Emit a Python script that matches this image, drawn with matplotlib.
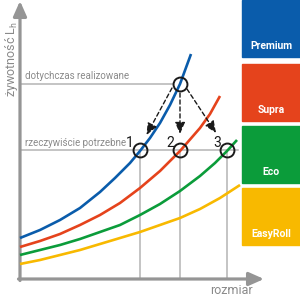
import matplotlib
matplotlib.use("Agg")
import matplotlib.pyplot as plt
from matplotlib.patches import Rectangle

# ---- data (x = size, y = lifetime, in chart units) ----
x_blue = [20, 40, 60, 80, 100, 115, 130, 140, 150, 160, 170, 180, 191]
y_blue = [62, 70, 80, 92, 108, 122, 137, 149, 162, 177, 195, 216, 246]
x_red = [20, 40, 60, 80, 100, 120, 140, 160, 180, 200, 210, 220]
y_red = [53, 59, 66, 75, 85, 97, 112, 129, 149, 172, 186, 204]
x_green = [20, 40, 60, 80, 100, 120, 140, 160, 180, 200, 215, 227, 237]
y_green = [45, 50, 55, 61, 68, 75, 85, 96, 109, 124, 137, 149, 160]
x_yellow = [20, 40, 60, 80, 100, 120, 140, 160, 180, 200, 220, 240]
y_yellow = [36, 40, 45, 50, 56, 62, 68, 75, 82, 91, 102, 115]

series_names = ["Premium", "Supra", "Eco", "EasyRoll"]
series_colors = ["#0a5cab", "#e5431c", "#0b9c3a", "#f8b900"]

level_high = 216          # "dotychczas realizowane"
level_needed = 150        # "rzeczywiście potrzebne"
x_high = 180
x_points = [140, 180, 227]
point_labels = ["1", "2", "3"]

label_high = "dotychczas realizowane"
label_needed = "rzeczywiście potrzebne"
ylabel = "żywotność L$_\\mathregular{h}$"
xlabel = "rozmiar"

# ---- figure ----
fig = plt.figure(figsize=(3, 3), dpi=100)
ax = fig.add_axes([0, 0, 1, 1])
ax.set_xlim(0, 300)
ax.set_ylim(0, 300)
ax.axis("off")

gray_axis = "#959595"
gray_line = "#b4b4b4"
gray_text = "#8a8a8a"
font = ["Liberation Sans Narrow", "Roboto", "DejaVu Sans"]

# reference lines
ax.plot([20, x_high - 7], [level_high, level_high], color=gray_line, lw=1.1, zorder=1)
ax.plot([20, 238], [level_needed, level_needed], color=gray_line, lw=1.1, zorder=1)
for xp in x_points:
    ax.plot([xp, xp], [21, level_needed], color=gray_line, lw=1.1, zorder=1)

# curves
for xs, ys, c in zip([x_blue, x_red, x_green, x_yellow],
                     [y_blue, y_red, y_green, y_yellow], series_colors):
    ax.plot(xs, ys, color=c, lw=1.9, solid_capstyle="butt", zorder=3)

# axes with arrows
ax.annotate("", xy=(20, 299), xytext=(20, 19.5),
            arrowprops=dict(arrowstyle="-|>,head_length=0.9,head_width=0.4",
                            color=gray_axis, lw=2.3, shrinkA=0, shrinkB=0), zorder=2)
ax.annotate("", xy=(264, 21), xytext=(18.5, 21),
            arrowprops=dict(arrowstyle="-|>,head_length=0.9,head_width=0.4",
                            color=gray_axis, lw=2.3, shrinkA=0, shrinkB=0), zorder=2)

# circles
ax.plot([x_high], [level_high], "o", ms=10, mfc="none", mec="#1a1a1a", mew=1.4, zorder=5)
ax.plot(x_points, [level_needed] * 3, "o", ms=10, mfc="none", mec="#1a1a1a", mew=1.4, zorder=5)

# dashed arrows from the upper circle to the three points
starts = [(172, 212), (180, 207), (187, 211)]
ends = [(146.5, 165), (180, 166), (216, 167)]
for (sx, sy), (ex, ey) in zip(starts, ends):
    ax.annotate("", xy=(ex, ey), xytext=(sx, sy),
                arrowprops=dict(arrowstyle="-|>,head_length=0.7,head_width=0.3",
                                color="#1a1a1a", lw=1.0, ls=(0, (3, 2)),
                                shrinkA=0, shrinkB=0), zorder=4)

# point numbers
for xp, t in zip(x_points, point_labels):
    ax.text(xp - 10, level_needed + 7, t, fontsize=10, color="#1a1a1a",
            ha="center", va="center", family=font)

# texts
ax.text(25, level_high + 8, label_high, fontsize=7, color=gray_text,
        ha="left", va="center", family=font)
ax.text(25, level_needed + 7, label_needed, fontsize=7, color=gray_text,
        ha="left", va="center", family=font)
ax.text(12, 241, ylabel, fontsize=9, color=gray_text, rotation=90,
        ha="center", va="center", family=font)
ax.text(231, 9, xlabel, fontsize=9, color=gray_text, ha="center", va="center",
        family=font)

# legend boxes
box_tops = [300, 236, 174, 112]
box_h = 57
for name, c, top in zip(series_names, series_colors, box_tops):
    ax.add_patch(Rectangle((242, top - box_h), 58, box_h, color=c, zorder=2))
    ax.text(271, top - box_h + 11, name, fontsize=7.5, color="white",
            weight="bold", ha="center", va="center", family=font)

fig.savefig("out.png", dpi=100)
